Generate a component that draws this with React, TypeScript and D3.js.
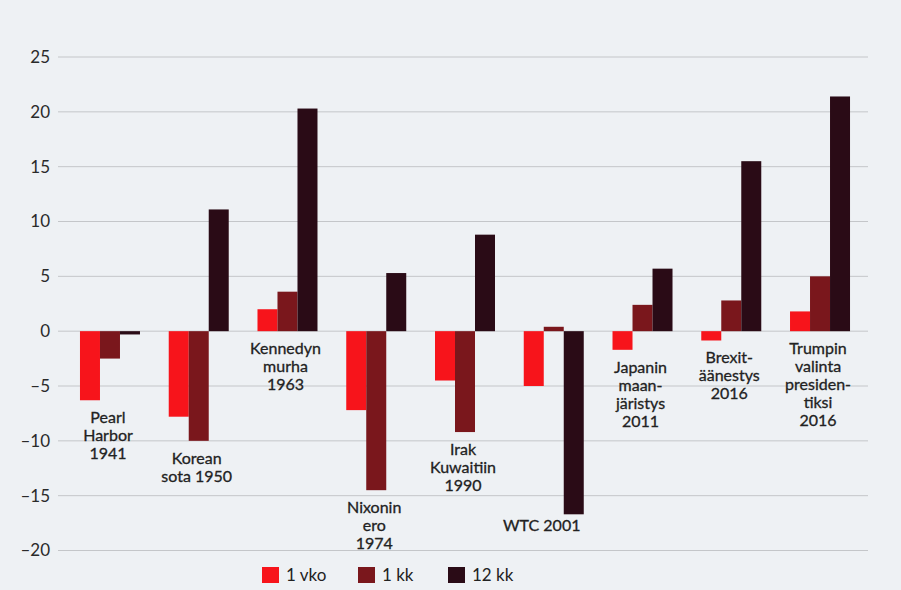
import { useEffect, useRef } from 'react';
import * as d3 from 'd3';

// events (label lines) and index changes, %
const events = [
  'Pearl Harbor 1941',
  'Korean sota 1950',
  'Kennedyn murha 1963',
  'Nixonin ero 1974',
  'Irak Kuwaitiin 1990',
  'WTC 2001',
  'Japanin maanjäristys 2011',
  'Brexit-äänestys 2016',
  'Trumpin valinta presidentiksi 2016',
];
const eventLines = [
  ['Pearl', 'Harbor', '1941'],
  ['Korean', 'sota 1950'],
  ['Kennedyn', 'murha', '1963'],
  ['Nixonin', 'ero', '1974'],
  ['Irak', 'Kuwaitiin', '1990'],
  ['WTC 2001'],
  ['Japanin', 'maan-', 'järistys', '2011'],
  ['Brexit-', 'äänestys', '2016'],
  ['Trumpin', 'valinta', 'presiden-', 'tiksi', '2016'],
];
const vko1 = [-6.3, -7.8, 2.0, -7.2, -4.5, -5.0, -1.7, -0.85, 1.8];
const kk1 = [-2.5, -10.0, 3.6, -14.5, -9.2, 0.4, 2.4, 2.8, 5.0];
const kk12 = [-0.3, 11.1, 20.3, 5.3, 8.8, -16.7, 5.7, 15.5, 21.4];

const seriesNames = ['1 vko', '1 kk', '12 kk'];
const seriesColors = ['#f7141b', '#7a171c', '#2a0b16'];
const yTicks = [-20, -15, -10, -5, 0, 5, 10, 15, 20, 25];

export default function App() {
  const svgRef = useRef<SVGSVGElement>(null);

  useEffect(() => {
    if (!svgRef.current) return;
    const svg = d3.select(svgRef.current);
    svg.selectAll('*').remove();

    const width = 901;
    const height = 590;
    const font = 'Lato, "Noto Sans", sans-serif';

    svg.append('rect').attr('width', width).attr('height', height).attr('fill', '#eef1f4');

    const x0 = d3
      .scaleBand<string>()
      .domain(events)
      .range([65.6, 864.4])
      .paddingInner(0.324)
      .paddingOuter(0.162);

    const x1 = d3
      .scaleBand<string>()
      .domain(seriesNames)
      .range([0, x0.bandwidth()])
      .padding(0);

    const y = d3.scaleLinear().domain([-20, 25]).range([550.5, 57]);

    // Grid lines
    svg
      .append('g')
      .selectAll('line')
      .data(yTicks)
      .enter()
      .append('line')
      .attr('x1', 58)
      .attr('x2', 868)
      .attr('y1', (d) => y(d))
      .attr('y2', (d) => y(d))
      .attr('stroke', '#c4c6c9')
      .attr('stroke-width', 1);

    // Y labels
    svg
      .append('g')
      .selectAll('text')
      .data(yTicks)
      .enter()
      .append('text')
      .attr('x', 50)
      .attr('y', (d) => y(d))
      .attr('dy', '0.35em')
      .attr('text-anchor', 'end')
      .attr('font-family', font)
      .attr('font-size', 17)
      .attr('fill', '#2a2a2a')
      .text((d) => (d < 0 ? `–${Math.abs(d)}` : `${d}`));

    const series = [vko1, kk1, kk12];
    const rows = events.map((e, i) => ({
      event: e,
      values: series.map((s, j) => ({ name: seriesNames[j], value: s[i], color: seriesColors[j] })),
      lines: eventLines[i],
    }));

    const groups = svg
      .append('g')
      .selectAll('g')
      .data(rows)
      .enter()
      .append('g')
      .attr('transform', (d) => `translate(${x0(d.event)},0)`);

    groups
      .selectAll('rect')
      .data((d) => d.values)
      .enter()
      .append('rect')
      .attr('x', (d) => x1(d.name) as number)
      .attr('width', x1.bandwidth())
      .attr('y', (d) => y(Math.max(0, d.value)))
      .attr('height', (d) => Math.abs(y(d.value) - y(0)))
      .attr('fill', (d) => d.color);

    // Event labels below the lowest bar
    groups.each(function (d) {
      const lowest = Math.min(0, ...d.values.map((v) => v.value));
      const isWtc = d.lines.length === 1;
      const top = isWtc ? y(lowest) + 17 : y(lowest) + 23;
      const cx = isWtc ? x0.bandwidth() / 2 - 12 : x0.bandwidth() / 2 - 2;
      d3.select(this)
        .append('text')
        .attr('text-anchor', 'middle')
        .attr('font-family', font)
        .attr('font-size', 16)
        .attr('fill', '#222')
        .attr('stroke', '#222')
        .attr('stroke-width', 0.3)
        .selectAll('tspan')
        .data(d.lines)
        .enter()
        .append('tspan')
        .attr('x', cx)
        .attr('y', (_, i) => top + i * 18)
        .text((t) => t);
    });

    // Legend
    const legendX = [262, 358, 448];
    const legend = svg
      .append('g')
      .selectAll('g')
      .data(seriesNames)
      .enter()
      .append('g')
      .attr('transform', (_, i) => `translate(${legendX[i]},567)`);
    legend
      .append('rect')
      .attr('width', 17)
      .attr('height', 16)
      .attr('fill', (_, i) => seriesColors[i]);
    legend
      .append('text')
      .attr('x', 24)
      .attr('y', 8)
      .attr('dy', '0.35em')
      .attr('font-family', font)
      .attr('font-size', 17)
      .attr('fill', '#222')
      .text((d) => d);
  }, []);

  return (
    <svg
      ref={svgRef}
      width={901}
      height={590}
      style={{ position: 'absolute', left: 0, top: 0, display: 'block' }}
    ></svg>
  );
}
